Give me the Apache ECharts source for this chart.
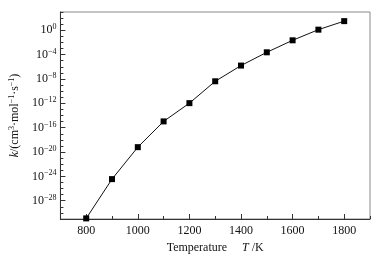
<!DOCTYPE html>
<html>
<head>
    <meta charset="utf-8">
    <script type="text/javascript" src="https://cdn.jsdelivr.net/npm/echarts@6/dist/echarts.min.js"></script>
    <title>k vs T</title>
</head>
<body style="margin:0">
    <div id="container" style="width:386px;height:261px;"></div>
    <script type="text/javascript">
    // temperatures (K) and log10 of k in cm^3 mol^-1 s^-1
    var temperature = [800, 900, 1000, 1100, 1200, 1300, 1400, 1500, 1600, 1700, 1800];
    var logK = [-30.9, -24.45, -19.2, -14.97, -11.97, -8.38, -5.8, -3.62, -1.65, 0.1, 1.5];
    var yTickExp = [-28, -24, -20, -16, -12, -8, -4, 0];
    var xTickLabels = [800, 1000, 1200, 1400, 1600, 1800];

    var font = 'Liberation Serif';
    var myChart = echarts.init(document.getElementById('container'));

    var points = temperature.map(function (t, i) { return [t, logK[i]]; });

    var option = {
        animation: false,
        textStyle: { fontFamily: font },
        grid: {
            left: 55, right: 16, top: 12, bottom: 42,
            show: true, borderColor: '#8a8a8a', borderWidth: 1
        },
        xAxis: [{
            // minor ticks every 100 K
            type: 'value', min: 700, max: 1900, interval: 100,
            axisLine: { onZero: false, lineStyle: { color: '#333' } },
            axisTick: { inside: true, length: 3, lineStyle: { color: '#333' } },
            axisLabel: { show: false },
            splitLine: { show: false }
        }, {
            type: 'value', min: 700, max: 1900, position: 'bottom',
            name: '{n|Temperature}     {i|T} {n|/K}',
            nameLocation: 'middle', nameGap: 22,
            nameTextStyle: {
                rich: {
                    n: { fontFamily: font, fontSize: 12, color: '#111' },
                    i: { fontFamily: font, fontSize: 12, fontStyle: 'italic', color: '#111' }
                }
            },
            axisLine: { show: false, onZero: false },
            axisTick: { inside: true, length: 5, customValues: xTickLabels, lineStyle: { color: '#333' } },
            axisLabel: {
                customValues: xTickLabels, fontFamily: font, fontSize: 12, color: '#111', margin: 6,
                formatter: function (v) { return String(v); }
            },
            splitLine: { show: false }
        }],
        yAxis: [{
            // one minor tick per decade
            type: 'value', min: -31, max: 3, interval: 1,
            axisLine: { show: true, onZero: false, lineStyle: { color: '#333' } },
            axisTick: { inside: true, length: 3, lineStyle: { color: '#333' } },
            axisLabel: { show: false },
            splitLine: { show: false }
        }, {
            type: 'value', min: -31, max: 3, position: 'left',
            name: '{i|k}{n|/(cm}{s|3}{n|·mol}{s|−1}{n|·s}{s|−1}{n|)}',
            nameLocation: 'middle', nameGap: 38, nameRotate: 90,
            nameTextStyle: {
                rich: {
                    n: { fontFamily: font, fontSize: 12, color: '#111', lineHeight: 14 },
                    i: { fontFamily: font, fontSize: 12, fontStyle: 'italic', color: '#111', lineHeight: 14 },
                    s: { fontFamily: font, fontSize: 8, color: '#111', verticalAlign: 'top', lineHeight: 14 }
                }
            },
            axisLine: { show: false, onZero: false },
            axisTick: { inside: true, length: 5, customValues: yTickExp, lineStyle: { color: '#333' } },
            axisLabel: {
                customValues: yTickExp, margin: 4,
                formatter: function (v) {
                    return '{b|10}{s|' + String(v).replace('-', '−') + '}';
                },
                rich: {
                    b: { fontFamily: font, fontSize: 12, color: '#111', lineHeight: 14 },
                    s: { fontFamily: font, fontSize: 8, color: '#111', verticalAlign: 'top', lineHeight: 14 }
                }
            },
            splitLine: { show: false }
        }],
        series: [{
            type: 'line',
            data: points,
            symbol: 'rect', symbolSize: 6,
            lineStyle: { color: '#111', width: 1 },
            itemStyle: { color: '#000' },
            clip: false
        }]
    };

    myChart.setOption(option);
    </script>
</body>
</html>
